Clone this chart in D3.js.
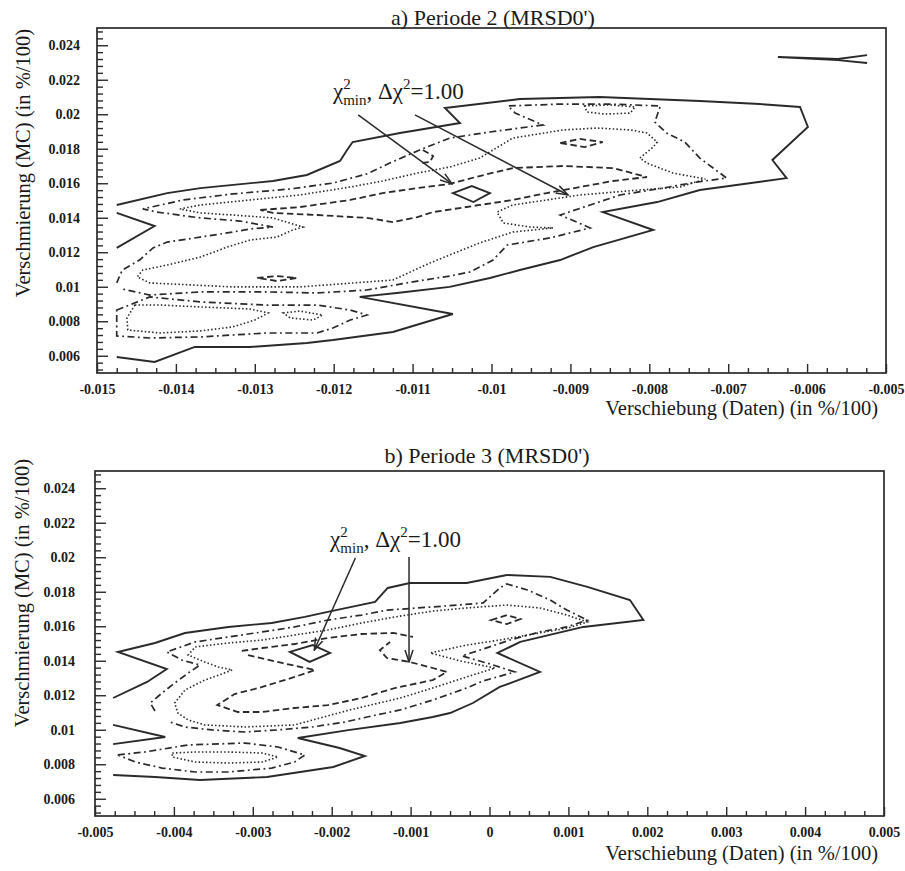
<!DOCTYPE html>
<html>
<head>
<meta charset="utf-8">
<script src="https://cdn.jsdelivr.net/npm/d3@7"></script>
<style>
  body { margin: 0; background: #ffffff; }
  svg { display: block; }
</style>
</head>
<body>
<svg id="chart" width="905" height="871"></svg>
<script>
// ---------- axis ticks ----------
const xTicksA = [-0.015, -0.014, -0.013, -0.012, -0.011, -0.01, -0.009, -0.008, -0.007, -0.006, -0.005];
const xTicksB = [-0.005, -0.004, -0.003, -0.002, -0.001, 0, 0.001, 0.002, 0.003, 0.004, 0.005];
const yTicks  = [0.006, 0.008, 0.01, 0.012, 0.014, 0.016, 0.018, 0.02, 0.022, 0.024];

// ---------- Periode 2 contours: [Verschiebung, Verschmierung] ----------
const aSolidOuter = [[-0.01475,0.01474],[-0.01411,0.01543],[-0.01369,0.01572],[-0.01277,0.01613],[-0.01234,0.01648],[-0.01192,0.01729],[-0.01183,0.01793],[-0.01176,0.01839],[-0.01116,0.01891],[-0.01040,0.01949],[-0.01059,0.02036],[-0.00964,0.02088],[-0.00863,0.02100],[-0.00736,0.02077],[-0.00660,0.02059],[-0.00609,0.02042],[-0.00599,0.01926],[-0.00644,0.01735],[-0.00626,0.01630],[-0.00736,0.01561],[-0.00790,0.01491],[-0.00859,0.01433],[-0.00795,0.01329],[-0.00871,0.01230],[-0.00913,0.01155],[-0.00964,0.01097],[-0.01002,0.01051],[-0.01053,0.00999],[-0.01120,0.00964],[-0.01167,0.00941],[-0.01049,0.00842],[-0.01125,0.00738],[-0.01201,0.00691],[-0.01234,0.00674],[-0.01306,0.00651],[-0.01376,0.00651],[-0.01427,0.00564],[-0.01475,0.00593]];
const aSolidNotch = [[-0.01475,0.01225],[-0.01427,0.01352],[-0.01475,0.01428]];
const aSolidCorner = [[-0.00524,0.02343],[-0.00561,0.02320],[-0.00637,0.02332],[-0.00561,0.02314],[-0.00524,0.02297]];
const aMinimum = [[-0.01049,0.01543],[-0.01025,0.01584],[-0.01002,0.01543],[-0.01023,0.01491]];
const aDashDotOuter = [[-0.01475,0.01022],[-0.01468,0.01097],[-0.01446,0.01155],[-0.01429,0.01225],[-0.01411,0.01259],[-0.01369,0.01288],[-0.01328,0.01317],[-0.01306,0.01335],[-0.01277,0.01346],[-0.01319,0.01381],[-0.01369,0.01399],[-0.01424,0.01433],[-0.01442,0.01451],[-0.01391,0.01503],[-0.01328,0.01538],[-0.01255,0.01567],[-0.01201,0.01601],[-0.01158,0.01654],[-0.01129,0.01717],[-0.01091,0.01793],[-0.01053,0.01862],[-0.01002,0.01897],[-0.00935,0.01938],[-0.00970,0.02007],[-0.00979,0.02048],[-0.00913,0.02059],[-0.00850,0.02059],[-0.00786,0.02048],[-0.00793,0.01955],[-0.00778,0.01891],[-0.00755,0.01839],[-0.00736,0.01746],[-0.00702,0.01630],[-0.00740,0.01607],[-0.00783,0.01572],[-0.00837,0.01532],[-0.00875,0.01474],[-0.00913,0.01416],[-0.00892,0.01375],[-0.00875,0.01341],[-0.00926,0.01283],[-0.00980,0.01242],[-0.00998,0.01155],[-0.01027,0.01086],[-0.01053,0.01062],[-0.01094,0.01033],[-0.01158,0.00981],[-0.01221,0.00964],[-0.01285,0.00970],[-0.01369,0.00970],[-0.01433,0.00952],[-0.01468,0.00987]];
const aDashDotLower = [[-0.01475,0.00865],[-0.01433,0.00941],[-0.01369,0.00912],[-0.01285,0.00894],[-0.01221,0.00894],[-0.01179,0.00865],[-0.01158,0.00836],[-0.01179,0.00807],[-0.01201,0.00761],[-0.01221,0.00732],[-0.01285,0.00732],[-0.01369,0.00709],[-0.01433,0.00703],[-0.01475,0.00715]];
const aDottedMain = [[-0.01395,0.01451],[-0.01369,0.01474],[-0.01306,0.01503],[-0.01243,0.01532],[-0.01179,0.01578],[-0.01138,0.01613],[-0.01094,0.01659],[-0.01053,0.01694],[-0.01015,0.01746],[-0.00973,0.01862],[-0.00909,0.01909],[-0.00866,0.01920],[-0.00824,0.01909],[-0.00803,0.01891],[-0.00790,0.01839],[-0.00795,0.01810],[-0.00812,0.01746],[-0.00803,0.01717],[-0.00770,0.01659],[-0.00729,0.01625],[-0.00761,0.01578],[-0.00812,0.01561],[-0.00888,0.01532],[-0.00930,0.01503],[-0.00973,0.01474],[-0.00993,0.01433],[-0.00985,0.01370],[-0.00951,0.01346],[-0.00922,0.01341],[-0.00973,0.01317],[-0.01015,0.01254],[-0.01078,0.01138],[-0.01125,0.01039],[-0.01243,0.00999],[-0.01328,0.00999],[-0.01433,0.01022],[-0.01449,0.01057],[-0.01442,0.01097],[-0.01411,0.01126],[-0.01369,0.01172],[-0.01335,0.01230],[-0.01306,0.01271],[-0.01272,0.01288],[-0.01252,0.01329],[-0.01239,0.01346],[-0.01277,0.01399],[-0.01328,0.01416],[-0.01369,0.01428]];
const aDottedLower = [[-0.01452,0.00894],[-0.01420,0.00894],[-0.01369,0.00883],[-0.01306,0.00871],[-0.01283,0.00848],[-0.01300,0.00807],[-0.01328,0.00767],[-0.01369,0.00744],[-0.01420,0.00732],[-0.01461,0.00749],[-0.01462,0.00819]];
const aDottedSmall = [[-0.01264,0.00848],[-0.01243,0.00859],[-0.01214,0.00836],[-0.01226,0.00807],[-0.01255,0.00819]];
const aDottedTop = [[-0.00882,0.02048],[-0.00850,0.02054],[-0.00818,0.02042],[-0.00824,0.02007],[-0.00856,0.02001],[-0.00879,0.02013]];
const aDashedMain = [[-0.01293,0.01445],[-0.01243,0.01462],[-0.01179,0.01503],[-0.01138,0.01543],[-0.01094,0.01572],[-0.01053,0.01596],[-0.01015,0.01642],[-0.00973,0.01688],[-0.00909,0.01700],[-0.00846,0.01688],[-0.00803,0.01636],[-0.00846,0.01613],[-0.00888,0.01578],[-0.00930,0.01543],[-0.00973,0.01503],[-0.01015,0.01474],[-0.01074,0.01433],[-0.01094,0.01404],[-0.01125,0.01375],[-0.01158,0.01399],[-0.01221,0.01416],[-0.01277,0.01428]];
const aDashedIslandA = [[-0.00913,0.01833],[-0.00888,0.01857],[-0.00859,0.01839],[-0.00882,0.01810]];
const aDashedIslandB = [[-0.01297,0.01051],[-0.01272,0.01062],[-0.01247,0.01051],[-0.01272,0.01033]];
const aDashedHook = [[-0.01087,0.01793],[-0.01074,0.01758],[-0.01078,0.01723],[-0.01091,0.01717]];
const aArrows = [[[-0.01169,0.01996],[-0.01050,0.01596]], [[-0.01097,0.01996],[-0.00903,0.01532]]];
const aNote = [-0.01201, 0.02088];

// ---------- Periode 3 contours ----------
const bSolidOuter = [[-0.00477,0.01184],[-0.00434,0.01277],[-0.00409,0.01352],[-0.00471,0.01451],[-0.00424,0.01503],[-0.00386,0.01561],[-0.00331,0.01596],[-0.00276,0.01619],[-0.00234,0.01654],[-0.00205,0.01683],[-0.00145,0.01741],[-0.00129,0.01822],[-0.00101,0.01851],[-0.00029,0.01851],[0.00022,0.01897],[0.00077,0.01886],[0.00124,0.01828],[0.00178,0.01752],[0.00195,0.01636],[0.00119,0.01596],[0.00039,0.01509],[0.00010,0.01445],[0.00064,0.01335],[0.00013,0.01248],[-0.00021,0.01155],[-0.00050,0.01097],[-0.00072,0.01074],[-0.00113,0.01039],[-0.00177,0.00999],[-0.00243,0.00952],[-0.00190,0.00894],[-0.00158,0.00848],[-0.00198,0.00784],[-0.00282,0.00726],[-0.00367,0.00709],[-0.00424,0.00726],[-0.00477,0.00738]];
const bSolidNotch = [[-0.00477,0.01028],[-0.00411,0.00958],[-0.00477,0.00917]];
const bMinimum = [[-0.00253,0.01451],[-0.00224,0.01491],[-0.00202,0.01445],[-0.00228,0.01393]];
const bDashDotOuter = [[-0.00424,0.01109],[-0.00430,0.01155],[-0.00415,0.01213],[-0.00399,0.01271],[-0.00380,0.01335],[-0.00367,0.01375],[-0.00390,0.01404],[-0.00409,0.01451],[-0.00373,0.01509],[-0.00331,0.01538],[-0.00288,0.01567],[-0.00247,0.01596],[-0.00205,0.01636],[-0.00162,0.01665],[-0.00129,0.01694],[-0.00072,0.01712],[-0.00008,0.01735],[0.00013,0.01822],[0.00022,0.01845],[0.00048,0.01810],[0.00077,0.01752],[0.00098,0.01694],[0.00124,0.01636],[0.00098,0.01596],[0.00064,0.01567],[0.00026,0.01520],[-0.00012,0.01462],[-0.00035,0.01428],[0.00001,0.01381],[0.00032,0.01335],[-0.00008,0.01283],[-0.00029,0.01242],[-0.00072,0.01172],[-0.00113,0.01115],[-0.00155,0.01074],[-0.00183,0.01045],[-0.00225,0.01016],[-0.00268,0.00999],[-0.00310,0.00987],[-0.00352,0.00999],[-0.00386,0.01016],[-0.00405,0.01045]];
const bDashDotLower = [[-0.00471,0.00854],[-0.00437,0.00871],[-0.00382,0.00912],[-0.00310,0.00923],[-0.00268,0.00900],[-0.00234,0.00854],[-0.00247,0.00813],[-0.00276,0.00778],[-0.00331,0.00755],[-0.00373,0.00755],[-0.00415,0.00778],[-0.00449,0.00813]];
const bDottedMain = [[0.00124,0.01625],[0.00098,0.01665],[0.00064,0.01706],[0.00022,0.01723],[-0.00029,0.01706],[-0.00072,0.01688],[-0.00120,0.01654],[-0.00162,0.01619],[-0.00205,0.01578],[-0.00247,0.01549],[-0.00288,0.01520],[-0.00331,0.01503],[-0.00373,0.01480],[-0.00382,0.01433],[-0.00361,0.01393],[-0.00344,0.01364],[-0.00326,0.01346],[-0.00361,0.01288],[-0.00386,0.01230],[-0.00399,0.01155],[-0.00395,0.01097],[-0.00382,0.01057],[-0.00361,0.01028],[-0.00310,0.01016],[-0.00247,0.01028],[-0.00177,0.01115],[-0.00113,0.01184],[-0.00072,0.01242],[-0.00029,0.01306],[0.00007,0.01358],[-0.00037,0.01399],[-0.00075,0.01445],[-0.00029,0.01491],[0.00013,0.01520],[0.00055,0.01555],[0.00100,0.01590]];
const bDottedLower = [[-0.00402,0.00865],[-0.00373,0.00871],[-0.00331,0.00871],[-0.00288,0.00865],[-0.00268,0.00842],[-0.00288,0.00813],[-0.00331,0.00807],[-0.00373,0.00813],[-0.00402,0.00842]];
const bDashedUpper = [[-0.00314,0.01457],[-0.00288,0.01474],[-0.00247,0.01497],[-0.00205,0.01532],[-0.00162,0.01555],[-0.00122,0.01561],[-0.00097,0.01538]];
const bDashedMain = [[-0.00306,0.01433],[-0.00263,0.01387],[-0.00221,0.01346],[-0.00247,0.01306],[-0.00288,0.01248],[-0.00323,0.01207],[-0.00345,0.01143],[-0.00319,0.01103],[-0.00288,0.01103],[-0.00247,0.01126],[-0.00205,0.01143],[-0.00162,0.01184],[-0.00120,0.01242],[-0.00072,0.01288],[-0.00054,0.01335],[-0.00072,0.01358],[-0.00101,0.01393],[-0.00130,0.01416],[-0.00139,0.01462],[-0.00126,0.01509]];
const bDashedIsland = [[0.00002,0.01636],[0.00022,0.01665],[0.00039,0.01642],[0.00022,0.01613]];
const bArrows = [[[-0.00170,0.01996],[-0.00222,0.01462]], [[-0.00102,0.02001],[-0.00102,0.01393]]];
const bNote = [-0.00202, 0.02059];

// ---------- styles ----------
const INK = "#2a2a2a";
const SERIF = "'Liberation Serif', 'Times New Roman', serif";
const lineStyles = {
  solid:   { width: 1.9, dash: null },
  dashdot: { width: 1.7, dash: "7,3.5,1.8,3.5" },
  dotted:  { width: 1.6, dash: "1.5,2.2" },
  dashed:  { width: 1.8, dash: "6.5,3.5" }
};

const panels = [
  {
    left: 97, top: 28, width: 789, height: 345,
    xDomain: [-0.015, -0.005], xTicks: xTicksA,
    title: "a) Periode 2 (MRSD0')", titleX: 493, titleY: 25,
    xLabelY: 415, yLabelX: 30, yLabelTop: 29, yPad: 17,
    lines: [
      { pts: aDashDotOuter, kind: "dashdot" },
      { pts: aDashDotLower, kind: "dashdot", closed: true },
      { pts: aDottedMain, kind: "dotted", closed: true },
      { pts: aDottedLower, kind: "dotted", closed: true },
      { pts: aDottedSmall, kind: "dotted", closed: true },
      { pts: aDottedTop, kind: "dotted", closed: true },
      { pts: aDashedMain, kind: "dashed", closed: true },
      { pts: aDashedIslandA, kind: "dashed", closed: true },
      { pts: aDashedIslandB, kind: "dashed", closed: true },
      { pts: aDashedHook, kind: "dashed" },
      { pts: aSolidOuter, kind: "solid" },
      { pts: aSolidNotch, kind: "solid" },
      { pts: aSolidCorner, kind: "solid" },
      { pts: aMinimum, kind: "solid", closed: true }
    ],
    arrows: aArrows, note: aNote
  },
  {
    left: 95, top: 471, width: 789, height: 345,
    xDomain: [-0.005, 0.005], xTicks: xTicksB,
    title: "b) Periode 3 (MRSD0')", titleX: 487, titleY: 463,
    xLabelY: 860, yLabelX: 29, yLabelTop: 459, yPad: 20,
    lines: [
      { pts: bDashDotOuter, kind: "dashdot" },
      { pts: bDashDotLower, kind: "dashdot", closed: true },
      { pts: bDottedMain, kind: "dotted", closed: true },
      { pts: bDottedLower, kind: "dotted", closed: true },
      { pts: bDashedUpper, kind: "dashed" },
      { pts: bDashedMain, kind: "dashed" },
      { pts: bDashedIsland, kind: "dashed", closed: true },
      { pts: bSolidOuter, kind: "solid" },
      { pts: bSolidNotch, kind: "solid" },
      { pts: bMinimum, kind: "solid", closed: true }
    ],
    arrows: bArrows, note: bNote
  }
];

const svg = d3.select("#chart");
svg.append("rect").attr("width", 905).attr("height", 871).attr("fill", "#ffffff");

svg.append("defs").append("marker")
  .attr("id", "arrowhead")
  .attr("markerUnits", "userSpaceOnUse")
  .attr("viewBox", "0 0 13 10")
  .attr("refX", 12).attr("refY", 5)
  .attr("markerWidth", 13).attr("markerHeight", 10)
  .attr("orient", "auto")
  .append("path")
  .attr("d", "M0,1 L12,5 L0,9")
  .attr("fill", "none").attr("stroke", INK).attr("stroke-width", 1.5);

const fmt = d => String(+d.toFixed(4));

function minorValues(start, stop, step, majors) {
  const n = Math.round((stop - start) / step);
  return d3.range(n + 1).map(i => +(start + i * step).toFixed(6))
    .filter(v => !majors.some(m => Math.abs(m - v) < step / 10));
}

panels.forEach(p => {
  const x = d3.scaleLinear().domain(p.xDomain).range([0, p.width]);
  const y = d3.scaleLinear().domain([0.005, 0.025]).range([p.height, 0]);
  const g = svg.append("g").attr("transform", `translate(${p.left},${p.top})`);

  // contour lines
  const line = d3.line().x(d => x(d[0])).y(d => y(d[1]));
  const closedLine = d3.line().x(d => x(d[0])).y(d => y(d[1])).curve(d3.curveLinearClosed);
  p.lines.forEach(l => {
    const s = lineStyles[l.kind];
    g.append("path")
      .attr("d", (l.closed ? closedLine : line)(l.pts))
      .attr("fill", "none")
      .attr("stroke", INK)
      .attr("stroke-width", s.width)
      .attr("stroke-linejoin", "miter")
      .attr("stroke-dasharray", s.dash);
  });

  // arrows
  p.arrows.forEach(a => {
    g.append("line")
      .attr("x1", x(a[0][0])).attr("y1", y(a[0][1]))
      .attr("x2", x(a[1][0])).attr("y2", y(a[1][1]))
      .attr("stroke", INK).attr("stroke-width", 1.5)
      .attr("marker-end", "url(#arrowhead)");
  });

  // annotation  chi^2_min, delta chi^2 = 1.00
  const t = g.append("text")
    .attr("x", x(p.note[0])).attr("y", y(p.note[1]))
    .attr("font-family", SERIF).attr("font-size", 23).attr("fill", "#1a1a1a");
  t.append("tspan").text("χ");
  t.append("tspan").attr("font-size", 15).attr("dy", -10).text("2");
  t.append("tspan").attr("font-size", 15).attr("dx", -7.5).attr("dy", 16).text("min");
  t.append("tspan").attr("dy", -6).text(", Δχ");
  t.append("tspan").attr("font-size", 15).attr("dy", -10).text("2");
  t.append("tspan").attr("dy", 10).text("=1.00");

  // axes: ticks point inward
  g.append("g").attr("transform", `translate(0,${p.height})`)
    .call(d3.axisBottom(x).tickValues(p.xTicks).tickSize(-9).tickPadding(11).tickFormat(fmt));
  g.append("g").attr("transform", `translate(0,${p.height})`)
    .call(d3.axisBottom(x).tickValues(minorValues(p.xDomain[0], p.xDomain[1], 0.00025, p.xTicks)).tickSize(-5).tickFormat(""));
  g.append("g")
    .call(d3.axisLeft(y).tickValues(yTicks).tickSize(-11).tickPadding(p.yPad).tickFormat(fmt));
  g.append("g")
    .call(d3.axisLeft(y).tickValues(minorValues(0.0052, 0.0248, 0.0004, yTicks)).tickSize(-6).tickFormat(""));

  g.selectAll(".domain").remove();
  g.selectAll(".tick line").attr("stroke", INK).attr("stroke-width", 1.4);
  g.selectAll(".tick text")
    .attr("font-family", SERIF).attr("font-size", 14).attr("font-weight", "bold").attr("fill", "#1a1a1a");

  // frame
  g.append("rect").attr("x", 0).attr("y", 0).attr("width", p.width).attr("height", p.height)
    .attr("fill", "none").attr("stroke", INK).attr("stroke-width", 1.7);

  // titles and axis labels
  svg.append("text").attr("x", p.titleX).attr("y", p.titleY).attr("text-anchor", "middle")
    .attr("font-family", SERIF).attr("font-size", 22).attr("fill", "#1a1a1a").text(p.title);
  svg.append("text").attr("x", 878).attr("y", p.xLabelY).attr("text-anchor", "end")
    .attr("font-family", SERIF).attr("font-size", 20.5).attr("fill", "#1a1a1a")
    .text("Verschiebung (Daten) (in %/100)");
  svg.append("text").attr("transform", `translate(${p.yLabelX},${p.yLabelTop}) rotate(-90)`)
    .attr("text-anchor", "end")
    .attr("font-family", SERIF).attr("font-size", 20.5).attr("fill", "#1a1a1a")
    .text("Verschmierung (MC) (in %/100)");
});
</script>
</body>
</html>
